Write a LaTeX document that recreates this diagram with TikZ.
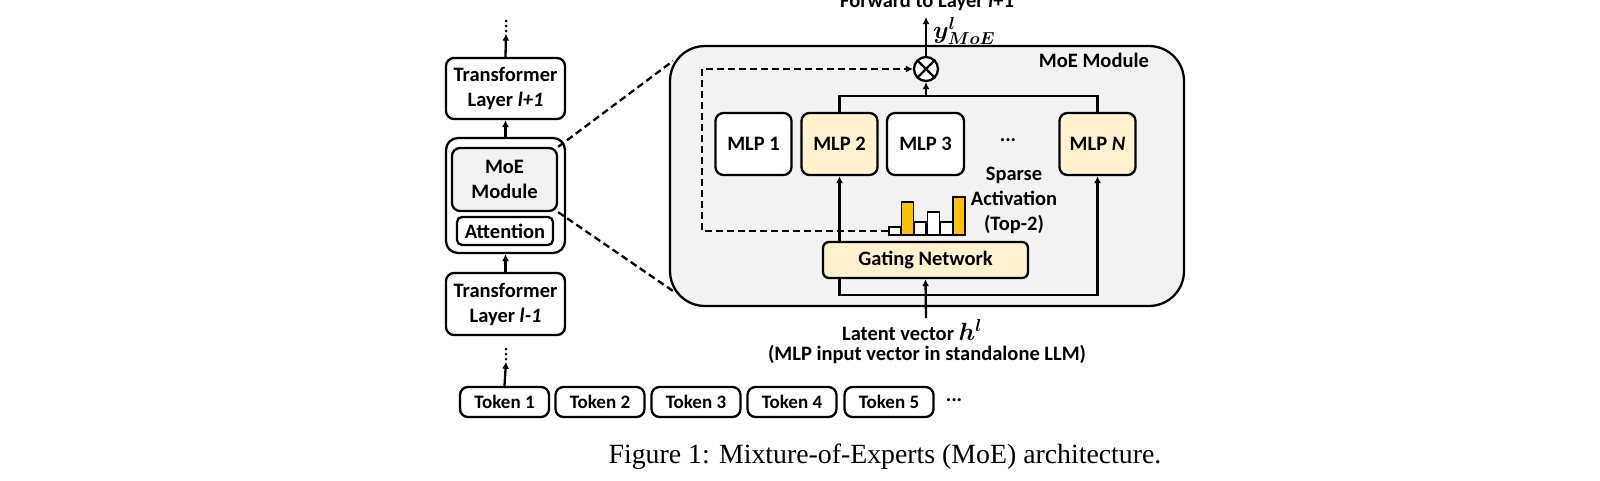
\documentclass[tikz,border=0pt]{standalone}
\usepackage{fontspec}
\usepackage{bm}
\newfontfamily\cf{Carlito}
\newfontfamily\capfont{Liberation Serif}
\usetikzlibrary{arrows.meta,calc}
\definecolor{gbox}{HTML}{F2F2F2}
\definecolor{ybox}{HTML}{FFF2CC}
\definecolor{obar}{HTML}{FFC000}
\begin{document}
\begin{tikzpicture}[x=1pt,y=-1pt, line width=2.3pt,
  lbl/.style={font=\cf\bfseries\fontsize{20.5}{25}\selectfont, align=center, inner sep=0pt},
  box/.style={lbl, draw, rounded corners=8pt, fill=white},
  arr/.style={-{Latex[length=7pt,width=7pt]}},
  dsh/.style={dash pattern=on 7pt off 4pt},
  barw/.style={draw, line width=1.6pt, fill=white, inner sep=0pt, minimum width=12pt, anchor=south west},
  baro/.style={barw, fill=obar},
  vd/.style={inner sep=0pt, minimum width=4pt, minimum height=13pt}]
\useasboundingbox (0,0) rectangle (1600,480);

% ---- left stack ----
\node[vd] (dA) at (506,26) {};
\foreach \d in {-5,0,5} \fill ($(dA.center)+(0,\d)$) circle (1.5pt);
\node[box, minimum width=119pt, minimum height=61pt] (tlp) at (505.5,88.5) {Transformer\\Layer \textit{l+1}};
\node[draw, rounded corners=12pt, minimum width=119pt, minimum height=115pt, inner sep=0pt] (outer) at (505.5,195.5) {};
\node[box, fill=gbox, minimum width=105pt, minimum height=63pt] (moe) at (504.5,179.5) {MoE\\Module};
\node[box, rounded corners=5pt, minimum width=96pt, minimum height=28pt] (attn) at (505,231) {Attention};
\node[box, minimum width=119pt, minimum height=62pt] (tlm) at (505.5,304) {Transformer\\Layer \textit{l-1}};
\node[vd] (dB) at (506,354) {};
\foreach \d in {-5,0,5} \fill ($(dB.center)+(0,\d)$) circle (1.5pt);

\draw[arr] (tlp.north) -- (dA.south);
\draw[arr] (outer.north) -- (tlp.south);
\draw[arr] (tlm.north) -- (outer.south);

% tokens
\foreach \i/\x in {1/504.5,2/600,3/696,4/792,5/889}{
  \node[box, minimum width=89pt, minimum height=30pt, font=\cf\bfseries\fontsize{19}{22}\selectfont] (tok\i) at (\x,402) {Token \i};
}
\node[lbl] (tokd) at (954,400) {...};
\draw[arr] (tok1.north) -- (dB.south);

% ---- MoE module ----
\node[draw, fill=gbox, rounded corners=35pt, minimum width=514pt, minimum height=260pt, inner sep=0pt] (big) at (927,176) {};
\node[lbl, anchor=east] (bigt) at (1150,60) {MoE Module};

\coordinate (zt) at (673,61);
\coordinate (zb) at (673,291);
\draw[dsh] (moe.north east) -- (zt);
\draw[dsh] (moe.south east) -- (zb);

\node[draw, circle, fill=white, minimum size=24pt, inner sep=0pt] (ot) at (926,69) {};
\draw (ot.north east) -- (ot.south west) (ot.north west) -- (ot.south east);

\node[lbl, anchor=west, font=\fontsize{23}{25}\selectfont] (ylab) at (932,31) {$\bm{y^{l}_{MoE}}$};
\node[lbl] (fwd) at (927,2) {Forward to Layer \textit{l}+1};
\coordinate (ftop) at (926,17);
\draw[arr] (ot.north) -- (ftop);

\node[box, minimum width=76pt, minimum height=62pt] (m1) at (753.5,144) {MLP 1};
\node[box, fill=ybox, minimum width=76pt, minimum height=62pt] (m2) at (839.5,144) {MLP 2};
\node[box, minimum width=77pt, minimum height=62pt] (m3) at (925.5,144) {MLP 3};
\node[lbl] (mdots) at (1008,140) {...};
\node[box, fill=ybox, minimum width=76pt, minimum height=62pt] (mN) at (1097.5,144) {MLP \textit{N}};

\coordinate (jt) at (926,96);
\draw (m2.north) |- (jt) -| (mN.north);
\draw[arr] (jt) -- (ot.south);

\node[box, fill=ybox, rounded corners=6pt, minimum width=205pt, minimum height=36pt] (gate) at (925.5,260) {Gating Network};
\draw[arr] (gate.north -| m2.south) -- (m2.south);
\coordinate (bj) at (926,295);
\draw[arr] (gate.south -| m2.south) |- (bj) -| (mN.south);
\coordinate (inp) at (926,318);
\draw[arr] (inp) -- (gate.south);

% bars
\node[barw, minimum height=8pt] (b1) at (888,236) {};
\node[baro, minimum height=33pt] (b2) at (900.5,236) {};
\node[barw, minimum height=13pt] (b3) at (913,236) {};
\node[barw, minimum height=23pt] (b4) at (926.5,236) {};
\node[barw, minimum height=13pt] (b5) at (939.5,236) {};
\node[baro, minimum height=38pt] (b6) at (952,236) {};

\node[lbl] (sp) at (1014,200) {Sparse\\Activation\\(Top-2)};

\coordinate (dc) at (702,150);
\draw[dsh, arr] (b1.west) -| (dc) |- (ot.west);

\node[lbl] (lat) at (912,330) {Latent vector {\fontsize{23}{25}\selectfont$\bm{h^{l}}$}};
\node[lbl] (mlpin) at (927,354) {(MLP input vector in standalone LLM)};

\node[inner sep=0pt, font=\capfont\fontsize{27.8}{32}\selectfont] (cap) at (885,457) {Figure 1: Mixture-of-Experts (MoE) architecture.};
\end{tikzpicture}
\end{document}
